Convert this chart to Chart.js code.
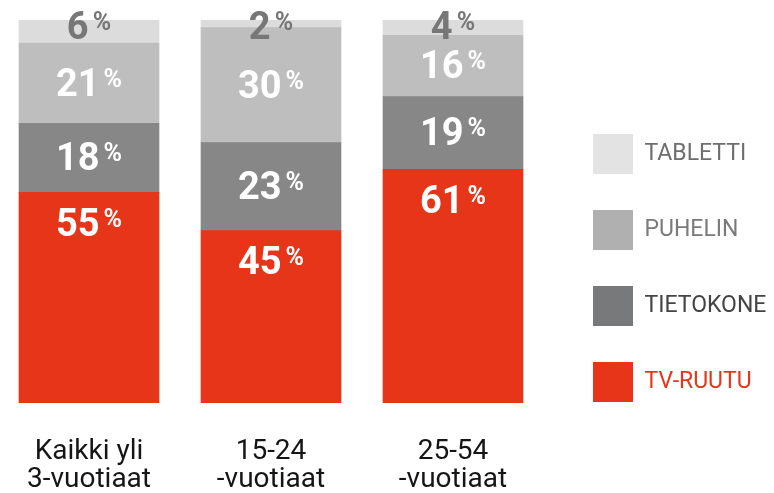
<!DOCTYPE html>
<html>
<head>
<meta charset="utf-8">
<script src="https://cdn.jsdelivr.net/npm/chart.js@4/dist/chart.umd.min.js"></script>
<style>
  html, body { margin: 0; padding: 0; background: #ffffff; }
  #wrap { width: 774px; height: 493px; position: relative; }
</style>
</head>
<body>
<div id="wrap"><canvas id="c" width="774" height="493"></canvas></div>
<script>
// ---- Data ----
const categories = [['Kaikki yli', '3-vuotiaat'], ['15-24', '-vuotiaat'], ['25-54', '-vuotiaat']];
const seriesNames = ['TV-RUUTU', 'TIETOKONE', 'PUHELIN', 'TABLETTI'];
const tvRuutu = [55, 45, 61];
const tietokone = [18, 23, 19];
const puhelin = [21, 30, 16];
const tabletti = [6, 2, 4];

// ---- Styles ----
const barColors = ['#E63519', '#878787', '#BEBEBE', '#DCDCDC'];
const legendBoxColors = ['#E63519', '#78797B', '#B0B0B0', '#E3E3E3'];
const legendTextColors = ['#E63519', '#444444', '#7A7A7A', '#6E6E6E'];

const seriesValues = [tvRuutu, tietokone, puhelin, tabletti];
const toPoints = (arr) => arr.map((v, i) => ({ x: i, y: v }));

const datasets = seriesNames.map((name, k) => ({
  label: name,
  data: toPoints(seriesValues[k]),
  backgroundColor: barColors[k],
  borderWidth: 0,
  barThickness: 140
}));

const valueLabels = {
  id: 'valueLabels',
  afterDatasetsDraw(chart) {
    const ctx = chart.ctx;
    const numSize = 38, pctSize = 25;
    chart.data.datasets.forEach((ds, di) => {
      const meta = chart.getDatasetMeta(di);
      meta.data.forEach((el, i) => {
        const v = ds.data[i].y;
        const top = Math.min(el.y, el.base);
        const bottom = Math.max(el.y, el.base);
        let cy;
        if (di === 3) cy = top + 5.5;
        else if (di === 0) cy = top + 30;
        else cy = (top + bottom) / 2 - 1;
        ctx.save();
        const numFont = 'bold ' + numSize + 'px Roboto';
        const pctFont = 'bold ' + pctSize + 'px Roboto';
        ctx.font = numFont;
        const txt = String(v);
        const nw = ctx.measureText(txt).width;
        ctx.font = pctFont;
        const pw = ctx.measureText('%').width;
        const gap = 4;
        const total = nw + gap + pw;
        const x0 = el.x - total / 2;
        const baseline = cy + 0.355 * numSize;
        ctx.fillStyle = di === 3 ? '#777777' : '#ffffff';
        ctx.textAlign = 'left';
        ctx.textBaseline = 'alphabetic';
        ctx.font = numFont;
        ctx.fillText(txt, x0, baseline);
        ctx.font = pctFont;
        ctx.fillText('%', x0 + nw + gap, baseline - 0.711 * numSize + 0.72 * pctSize);
        ctx.restore();
      });
    });
  }
};

Chart.defaults.font.family = 'Roboto';

new Chart(document.getElementById('c'), {
  type: 'bar',
  data: { datasets },
  plugins: [valueLabels],
  options: {
    responsive: false,
    animation: false,
    devicePixelRatio: 1,
    layout: { padding: { top: 20, left: 0, right: 0, bottom: 0 } },
    scales: {
      x: {
        type: 'linear',
        stacked: true,
        offset: false,
        min: -0.48901,
        max: 2.57143,
        grid: { display: false },
        border: { display: false },
        afterBuildTicks: (s) => { s.ticks = categories.map((c, i) => ({ value: i })); },
        afterFit: (s) => { s.height = 90; s.paddingLeft = 0; s.paddingRight = 0; },
        ticks: {
          callback: (v) => categories[v],
          autoSkip: false,
          maxRotation: 0,
          minRotation: 0,
          padding: 27,
          color: '#151515',
          font: { family: 'Roboto', size: 28, lineHeight: 1 }
        }
      },
      y: {
        stacked: true,
        display: false,
        min: 0,
        max: 100
      }
    },
    plugins: {
      tooltip: { enabled: false },
      legend: {
        position: 'right',
        align: 'start',
        fullSize: true,
        reverse: true,
        maxWidth: 217,
        title: { display: true, text: '', font: { size: 10, lineHeight: 1 }, padding: { top: 68, bottom: 0 } },
        labels: {
          boxWidth: 40,
          boxHeight: 40,
          padding: 36,
          font: { family: 'Roboto', size: 23 },
          generateLabels: (chart) => chart.data.datasets.map((ds, k) => ({
            text: ds.label,
            fillStyle: legendBoxColors[k],
            strokeStyle: legendBoxColors[k],
            lineWidth: 0,
            fontColor: legendTextColors[k],
            hidden: false,
            datasetIndex: k
          }))
        }
      }
    }
  }
});
</script>
</body>
</html>
